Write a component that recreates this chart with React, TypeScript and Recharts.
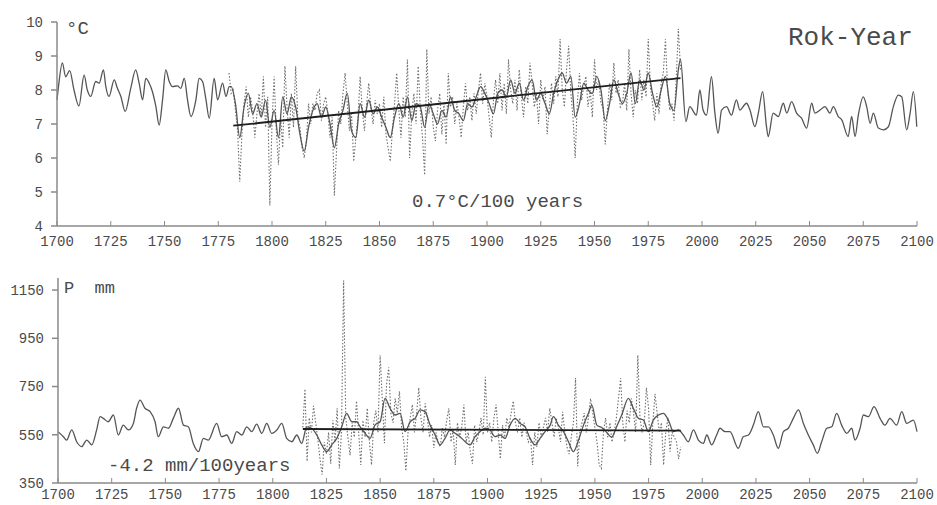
import { LineChart, Line, XAxis, YAxis } from "recharts";

// temperature, °C : reconstructed/model series 1700-2100
const tempModel: [number, number][] = [
  [1700, 7.71], [1700.6, 8.05], [1702.5, 8.8], [1704, 8.39], [1705.9, 8.57], [1707.9, 8.0],
  [1710.2, 7.53], [1712.6, 8.44], [1714.1, 8.0], [1715.7, 7.81], [1718, 8.25], [1719.6, 8.2],
  [1721.6, 8.59], [1722.7, 8.1], [1724.2, 7.81], [1726.6, 8.3], [1728.1, 8.05], [1729.7, 7.81],
  [1731.7, 7.37], [1734.3, 8.05], [1736.6, 8.59], [1738.2, 8.2], [1739.8, 7.71], [1741.3, 8.34],
  [1742.9, 8.2], [1744.4, 7.95], [1746, 7.51], [1747.5, 6.97], [1749.1, 7.71], [1750.6, 8.59],
  [1752.2, 8.25], [1753.7, 8.1], [1756, 8.12], [1757.6, 8.05], [1759.2, 8.34], [1760.7, 7.71],
  [1762.3, 7.22], [1764.6, 7.71], [1766.1, 8.34], [1767.7, 8.25], [1769.3, 7.71], [1770.8, 7.17],
  [1773.1, 8.34], [1774.7, 7.71], [1777, 8.2], [1778.6, 7.81], [1780.1, 8.1],
  [1781, 8.1], [1783, 7.6], [1785, 6.6], [1787, 7.5], [1789, 7.9], [1791, 7.3], [1793, 7.6],
  [1795, 7.2], [1797, 7.7], [1799, 6.9], [1801, 7.4], [1803, 6.6], [1805, 7.8], [1807, 7.3],
  [1809, 7.8], [1811, 7.5], [1813, 6.7], [1815, 6.2], [1817, 6.9], [1819, 7.4], [1821, 7.6],
  [1823, 7.2], [1825, 7.5], [1827, 7.0], [1829, 6.3], [1831, 7.0], [1833, 7.4], [1835, 7.9],
  [1837, 6.8], [1839, 6.6], [1841, 7.6], [1843, 7.2], [1845, 7.7], [1847, 7.3], [1849, 7.5],
  [1851, 7.2], [1853, 6.9], [1855, 6.6], [1857, 7.2], [1859, 7.6], [1861, 7.2], [1863, 7.8],
  [1865, 7.1], [1867, 7.6], [1869, 7.5], [1871, 6.9], [1873, 7.6], [1875, 7.3], [1877, 7.0],
  [1879, 7.4], [1881, 7.2], [1883, 7.8], [1885, 7.4], [1887, 7.3], [1889, 7.1], [1891, 7.6],
  [1893, 7.5], [1895, 7.8], [1897, 8.1], [1899, 7.9], [1901, 7.6], [1903, 7.3], [1905, 7.9],
  [1907, 8.0], [1909, 7.8], [1911, 8.3], [1913, 7.9], [1915, 8.2], [1917, 7.7], [1919, 8.1],
  [1921, 8.3], [1923, 7.7], [1925, 7.9], [1927, 7.6], [1929, 7.3], [1931, 7.9], [1933, 8.3],
  [1935, 8.5], [1937, 8.2], [1939, 8.4], [1941, 7.2], [1943, 7.6], [1945, 8.2], [1947, 8.0],
  [1949, 7.9], [1951, 8.4], [1953, 8.0], [1955, 7.1], [1957, 7.6], [1959, 8.3], [1961, 7.9],
  [1963, 7.6], [1965, 7.9], [1967, 8.5], [1969, 7.6], [1971, 8.3], [1973, 8.0], [1975, 8.5],
  [1977, 7.9], [1979, 7.5], [1981, 8.0], [1983, 8.4], [1985, 7.6], [1987, 7.4], [1989, 8.6],
  [1990, 8.9], [1992.5, 7.07], [1994.3, 7.51], [1997.4, 7.26], [1999, 8.0], [2000.5, 7.41],
  [2002.1, 7.26], [2004.4, 8.39], [2006, 7.32], [2007.5, 6.73], [2009.1, 7.41], [2011.4, 7.51],
  [2013.7, 7.26], [2016, 7.71], [2017.6, 7.41], [2020.7, 7.61], [2022.3, 7.41], [2024.6, 6.92],
  [2026.2, 7.32], [2028.2, 7.95], [2030, 6.92], [2030.8, 6.63], [2033.1, 7.32], [2035.5, 7.22],
  [2037.8, 7.61], [2039.4, 7.32], [2041.7, 7.66], [2044, 7.32], [2046.3, 7.17], [2048.7, 6.88],
  [2051, 7.61], [2052.5, 7.32], [2054.9, 7.41], [2057.2, 7.51], [2059.5, 7.32], [2061.1, 7.51],
  [2063.4, 7.22], [2065, 7.12], [2068, 6.63], [2069.6, 7.22], [2071.2, 6.63], [2072.7, 7.26],
  [2075, 7.8], [2076.6, 7.51], [2078.2, 7.02], [2079.7, 7.32], [2082, 6.88], [2084.4, 6.83],
  [2086.7, 6.92], [2089, 7.51], [2091.3, 7.85], [2092.9, 7.8], [2095.2, 6.83], [2096.8, 7.32],
  [2098.3, 7.95], [2099.9, 6.92],
];

// temperature, °C : measured yearly values
const tempObs: [number, number][] = [
  [1780, 8.5], [1781, 7.9], [1782, 8.0], [1783, 7.4], [1784, 6.8], [1785, 5.3], [1786, 6.7],
  [1787, 7.6], [1788, 8.1], [1789, 7.2], [1790, 7.8], [1791, 7.4], [1792, 6.6], [1793, 7.3],
  [1794, 7.9], [1795, 7.2], [1796, 8.4], [1797, 6.9], [1798, 7.8], [1799, 4.6], [1800, 7.0],
  [1801, 8.4], [1802, 6.8], [1803, 5.8], [1804, 7.2], [1805, 6.3], [1806, 8.7], [1807, 7.5],
  [1808, 6.6], [1809, 7.9], [1810, 6.9], [1811, 8.7], [1812, 7.2], [1813, 6.9], [1814, 6.3],
  [1815, 6.0], [1816, 6.5], [1817, 7.6], [1818, 7.0], [1819, 7.6], [1820, 7.4], [1821, 7.9],
  [1822, 8.0], [1823, 7.1], [1824, 7.6], [1825, 7.8], [1826, 7.3], [1827, 6.6], [1828, 7.2],
  [1829, 4.9], [1830, 6.2], [1831, 7.4], [1832, 7.0], [1833, 7.9], [1834, 8.5], [1835, 7.6],
  [1836, 6.8], [1837, 7.3], [1838, 5.9], [1839, 6.6], [1840, 7.2], [1841, 8.4], [1842, 7.4],
  [1843, 6.8], [1844, 7.6], [1845, 8.2], [1846, 7.5], [1847, 7.0], [1848, 7.7], [1849, 7.3],
  [1850, 7.6], [1851, 6.9], [1852, 7.8], [1853, 6.7], [1854, 6.3], [1855, 5.9], [1856, 6.8],
  [1857, 7.6], [1858, 8.5], [1859, 7.4], [1860, 6.6], [1861, 7.8], [1862, 7.2], [1863, 8.9],
  [1864, 6.0], [1865, 7.3], [1866, 7.9], [1867, 7.0], [1868, 8.7], [1869, 7.4], [1870, 6.6],
  [1871, 5.5], [1872, 9.2], [1873, 7.3], [1874, 7.8], [1875, 6.9], [1876, 6.5], [1877, 7.4],
  [1878, 7.9], [1879, 6.7], [1880, 7.6], [1881, 6.4], [1882, 8.5], [1883, 7.5], [1884, 7.8],
  [1885, 7.0], [1886, 7.6], [1887, 7.2], [1888, 6.6], [1889, 7.5], [1890, 8.2], [1891, 7.4],
  [1892, 7.8], [1893, 7.1], [1894, 7.9], [1895, 7.3], [1896, 8.0], [1897, 8.5], [1898, 7.6],
  [1899, 8.2], [1900, 7.8], [1901, 7.2], [1902, 6.6], [1903, 7.7], [1904, 8.3], [1905, 7.6],
  [1906, 8.5], [1907, 7.4], [1908, 8.2], [1909, 7.3], [1910, 8.9], [1911, 8.0], [1912, 7.6],
  [1913, 8.3], [1914, 7.4], [1915, 8.6], [1916, 7.8], [1917, 7.2], [1918, 8.1], [1919, 7.6],
  [1920, 8.8], [1921, 8.2], [1922, 7.5], [1923, 7.9], [1924, 7.0], [1925, 8.3], [1926, 7.7],
  [1927, 8.1], [1928, 6.7], [1929, 7.5], [1930, 8.2], [1931, 7.6], [1932, 8.4], [1933, 7.8],
  [1934, 9.5], [1935, 8.0], [1936, 7.5], [1937, 8.6], [1938, 9.3], [1939, 7.9], [1940, 7.2],
  [1941, 6.0], [1942, 7.6], [1943, 8.5], [1944, 7.7], [1945, 8.1], [1946, 8.4], [1947, 7.5],
  [1948, 8.0], [1949, 7.2], [1950, 8.9], [1951, 8.0], [1952, 8.3], [1953, 7.6], [1954, 7.5],
  [1955, 6.4], [1956, 7.4], [1957, 8.2], [1958, 7.7], [1959, 8.8], [1960, 7.9], [1961, 8.3],
  [1962, 7.5], [1963, 7.6], [1964, 8.2], [1965, 7.4], [1966, 9.2], [1967, 7.9], [1968, 7.2],
  [1969, 8.0], [1970, 7.6], [1971, 8.6], [1972, 7.7], [1973, 8.3], [1974, 7.8], [1975, 9.5],
  [1976, 8.1], [1977, 7.6], [1978, 7.1], [1979, 7.9], [1980, 7.3], [1981, 8.2], [1982, 8.5],
  [1983, 9.5], [1984, 8.0], [1985, 7.4], [1986, 7.6], [1987, 7.1], [1988, 8.3], [1989, 9.8],
  [1990, 8.6],
];

const tempTrend: [number, number][] = [[1782, 6.95], [1990, 8.35]];

// precipitation, mm : model series 1700-2100
const precModel: [number, number][] = [
  [1700, 563], [1702.5, 542], [1704, 528], [1706.4, 570], [1708.7, 521], [1711, 501],
  [1713.4, 528], [1715.7, 508], [1718, 570], [1719.6, 625], [1721.1, 618], [1723.4, 604],
  [1725.8, 632], [1728.1, 549], [1730.4, 590], [1732.8, 570], [1735.1, 597], [1736.6, 660],
  [1738.2, 694], [1740.5, 660], [1742.9, 646], [1745.2, 604], [1746.7, 542], [1749.1, 583],
  [1751.4, 577], [1753.7, 618], [1756.1, 660], [1758.4, 590], [1760.7, 583], [1763, 514],
  [1765.4, 480], [1767.7, 535], [1770, 528], [1773.9, 597], [1776.2, 542], [1778.6, 549],
  [1780.9, 514], [1783.2, 563], [1785.6, 549], [1787.9, 583], [1790.2, 563], [1792.5, 594],
  [1794.9, 556], [1797.2, 597], [1799.5, 556], [1801.9, 570], [1804.2, 597], [1806.5, 535],
  [1808.9, 521], [1811.2, 549], [1813.5, 514], [1815.8, 583], [1818.1, 577], [1820.5, 549],
  [1822.8, 508], [1825.1, 480], [1827.5, 508], [1829.8, 535], [1832.1, 583], [1834.4, 639],
  [1836.8, 604], [1839.1, 604], [1840.7, 583], [1843, 556], [1845.3, 535], [1847.6, 590],
  [1850, 604], [1852.3, 701], [1854.6, 660], [1857, 632], [1859.3, 639], [1861.6, 563],
  [1864, 604], [1866.3, 618], [1868.6, 653], [1870.9, 646], [1873.3, 590], [1875.6, 549],
  [1877.9, 508], [1880.2, 535], [1882.6, 570], [1884.9, 556], [1887.2, 542], [1889.6, 521],
  [1891.9, 508], [1894.2, 542], [1896.5, 563], [1898.9, 577], [1901.2, 570], [1903.5, 542],
  [1905.9, 549], [1908.2, 535], [1910.5, 590], [1912.9, 618], [1915.2, 597], [1917.5, 583],
  [1919.8, 535], [1922.2, 508], [1924.5, 535], [1926.8, 563], [1929.2, 590], [1930.7, 625],
  [1933, 590], [1935.4, 563], [1937.7, 521], [1940, 480], [1942.4, 528], [1944.7, 590],
  [1947, 639], [1948.6, 673], [1950.9, 590], [1953.2, 580], [1955.5, 560], [1957.8, 540],
  [1960.2, 585], [1962.5, 632], [1965.6, 701], [1967.9, 660], [1970.3, 618], [1972.6, 611],
  [1974.9, 563], [1977.2, 611], [1979.6, 632], [1981.9, 639], [1984.2, 611], [1986.6, 563],
  [1988.9, 570], [1991.2, 549], [1993.5, 521], [1995.9, 570], [1998.2, 528], [2000.5, 514],
  [2002.1, 549], [2004.4, 508], [2006.7, 549], [2008.3, 577], [2010.6, 563], [2012.9, 563],
  [2016.8, 494], [2019.1, 542], [2021.5, 549], [2023.8, 590], [2026.1, 646], [2028.5, 583],
  [2030.8, 583], [2033.1, 549], [2035.4, 494], [2037.8, 563], [2040.1, 577], [2042.4, 618],
  [2044.8, 653], [2047.1, 597], [2049.4, 549], [2051.7, 508], [2053.6, 473], [2055.6, 521],
  [2058, 577], [2060.3, 583], [2062.6, 639], [2064.9, 590], [2067.3, 556], [2069.6, 577],
  [2071.1, 528], [2073.5, 577], [2075, 632], [2077.4, 625], [2080, 667], [2082.8, 618],
  [2085.1, 590], [2087.4, 618], [2090.5, 590], [2092.9, 646], [2095.2, 597], [2098.3, 611],
  [2100, 563],
];

// precipitation, mm : measured yearly values
const precObs: [number, number][] = [
  [1814, 580], [1815, 740], [1816, 440], [1817, 620], [1818, 560], [1819, 670], [1820, 600],
  [1821, 530], [1822, 450], [1823, 385], [1824, 520], [1825, 470], [1826, 560], [1827, 430],
  [1828, 610], [1829, 520], [1830, 660], [1831, 410], [1832, 560], [1833, 1190], [1834, 620],
  [1835, 540], [1836, 465], [1837, 600], [1838, 540], [1839, 690], [1840, 560], [1841, 425],
  [1842, 610], [1843, 540], [1844, 660], [1845, 520], [1846, 425], [1847, 600], [1848, 650],
  [1849, 560], [1850, 880], [1851, 700], [1852, 515], [1853, 760], [1854, 830], [1855, 640],
  [1856, 600], [1857, 700], [1858, 640], [1859, 730], [1860, 580], [1861, 520], [1862, 400],
  [1863, 560], [1864, 620], [1865, 675], [1866, 560], [1867, 640], [1868, 745], [1869, 620],
  [1870, 560], [1871, 680], [1872, 620], [1873, 540], [1874, 590], [1875, 495], [1876, 560],
  [1877, 520], [1878, 500], [1879, 580], [1880, 540], [1881, 610], [1882, 660], [1883, 520],
  [1884, 570], [1885, 425], [1886, 600], [1887, 540], [1888, 580], [1889, 675], [1890, 520],
  [1891, 560], [1892, 480], [1893, 430], [1894, 590], [1895, 520], [1896, 560], [1897, 620],
  [1898, 550], [1899, 790], [1900, 560], [1901, 600], [1902, 520], [1903, 620], [1904, 675],
  [1905, 560], [1906, 450], [1907, 590], [1908, 540], [1909, 620], [1910, 580], [1911, 640],
  [1912, 690], [1913, 600], [1914, 560], [1915, 620], [1916, 540], [1917, 600], [1918, 560],
  [1919, 520], [1920, 540], [1921, 425], [1922, 560], [1923, 500], [1924, 600], [1925, 540],
  [1926, 580], [1927, 620], [1928, 560], [1929, 660], [1930, 600], [1931, 540], [1932, 620],
  [1933, 580], [1934, 520], [1935, 645], [1936, 560], [1937, 500], [1938, 470], [1939, 540],
  [1940, 600], [1941, 785], [1942, 420], [1943, 560], [1944, 600], [1945, 640], [1946, 560],
  [1947, 620], [1948, 700], [1949, 640], [1950, 580], [1951, 520], [1952, 425], [1953, 410],
  [1954, 560], [1955, 620], [1956, 540], [1957, 600], [1958, 520], [1959, 560], [1960, 620],
  [1961, 700], [1962, 785], [1963, 600], [1964, 520], [1965, 650], [1966, 600], [1967, 700],
  [1968, 640], [1969, 560], [1970, 880], [1971, 620], [1972, 560], [1973, 600], [1974, 745],
  [1975, 660], [1976, 425], [1977, 600], [1978, 720], [1979, 640], [1980, 560], [1981, 600],
  [1982, 425], [1983, 560], [1984, 620], [1985, 480], [1986, 560], [1987, 540], [1988, 520],
  [1989, 450], [1990, 500],
];

const precTrend: [number, number][] = [[1814, 574], [1990, 567]];

const yearTicks = [1700, 1725, 1750, 1775, 1800, 1825, 1850, 1875, 1900, 1925, 1950, 1975, 2000, 2025, 2050, 2075, 2100];
const tempTicks = [4, 5, 6, 7, 8, 9, 10];
const precTicks = [350, 550, 750, 950, 1150];

const rows = (pts: [number, number][]) => pts.map(([year, v]) => ({ year, v }));

const MONO = "'Liberation Mono', 'DejaVu Sans Mono', monospace";
const INK = "#4a4a4a";
const AXIS = "#8a8a8a";

const XTick = (props: any) => {
  const { x, y, payload, offset = 20 } = props;
  return (
    <g>
      <line x1={x} y1={y} x2={x} y2={y - 5} stroke={AXIS} strokeWidth={1} />
      <text x={x} y={y + offset} textAnchor="middle" fontFamily={MONO} fontSize={14} fill={INK}>
        {payload.value}
      </text>
    </g>
  );
};

const label = (left: number, top: number, size: number, text: string) => (
  <div
    style={{
      position: "absolute",
      left,
      top,
      fontFamily: MONO,
      fontSize: size,
      color: INK,
      whiteSpace: "pre",
      lineHeight: 1,
    }}
  >
    {text}
  </div>
);

export default function App() {
  return (
    <div style={{ position: "absolute", left: 0, top: 0, width: 937, height: 505, background: "#fff" }}>
      <div style={{ position: "absolute", left: 0, top: 0 }}>
        <LineChart width={937} height={256} margin={{ top: 22, right: 20, bottom: 0, left: 0 }}>
          <XAxis
            dataKey="year"
            type="number"
            domain={[1700, 2100]}
            ticks={yearTicks}
            interval={0}
            height={30}
            tickSize={0}
            tickMargin={0}
            tickLine={false}
            tick={<XTick offset={20} />}
            stroke={AXIS}
            strokeWidth={1.5}
          />
          <YAxis
            type="number"
            domain={[4, 10]}
            ticks={tempTicks}
            interval={0}
            width={57}
            tickSize={6}
            tickMargin={8}
            stroke={AXIS}
            strokeWidth={1.5}
            tick={{ fontFamily: MONO, fontSize: 14, fill: INK }}
          />
          <Line data={rows(tempObs)} dataKey="v" type="linear" stroke="#6e6e6e" strokeWidth={1.1}
            strokeDasharray="1.5 1.8" dot={false} isAnimationActive={false} />
          <Line data={rows(tempModel)} dataKey="v" type="monotone" stroke="#555555" strokeWidth={1.3}
            dot={false} isAnimationActive={false} />
          <Line data={rows(tempTrend)} dataKey="v" type="linear" stroke="#1e1e1e" strokeWidth={1.8}
            dot={false} isAnimationActive={false} />
        </LineChart>
      </div>
      <div style={{ position: "absolute", left: 0, top: 250 }}>
        <LineChart width={937} height={255} margin={{ top: 28, right: 20, bottom: 0, left: 0 }}>
          <XAxis
            dataKey="year"
            type="number"
            domain={[1700, 2100]}
            ticks={yearTicks}
            interval={0}
            height={22}
            tickSize={0}
            tickMargin={0}
            tickLine={false}
            tick={<XTick offset={16} />}
            stroke={AXIS}
            strokeWidth={1.5}
          />
          <YAxis
            type="number"
            domain={[350, 1200]}
            ticks={precTicks}
            interval={0}
            width={58}
            tickSize={6}
            tickMargin={8}
            stroke={AXIS}
            strokeWidth={1.5}
            tick={{ fontFamily: MONO, fontSize: 14, fill: INK }}
          />
          <Line data={rows(precObs)} dataKey="v" type="linear" stroke="#6e6e6e" strokeWidth={1.1}
            strokeDasharray="1.5 1.8" dot={false} isAnimationActive={false} />
          <Line data={rows(precModel)} dataKey="v" type="monotone" stroke="#555555" strokeWidth={1.3}
            dot={false} isAnimationActive={false} />
          <Line data={rows(precTrend)} dataKey="v" type="linear" stroke="#1e1e1e" strokeWidth={1.8}
            dot={false} isAnimationActive={false} />
        </LineChart>
      </div>
      {label(66, 20, 19, "°C")}
      {label(788, 25, 26, "Rok-Year")}
      {label(412, 193, 19, "0.7°C/100 years")}
      {label(64, 280, 17, "P  mm")}
      {label(108, 457, 19, "-4.2 mm/100years")}
    </div>
  );
}
